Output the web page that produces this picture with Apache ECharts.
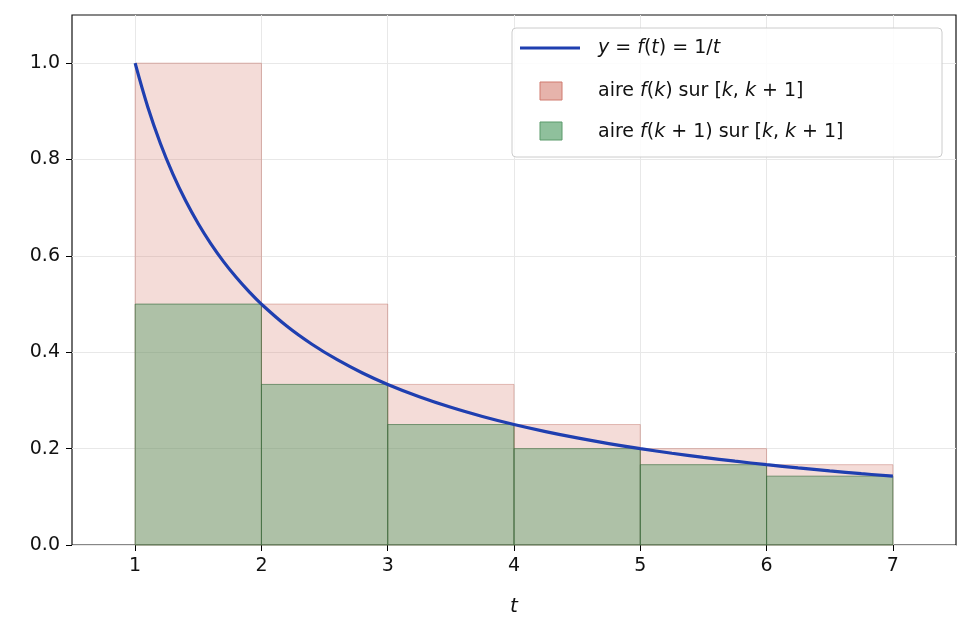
<!DOCTYPE html><html><head><meta charset="utf-8">
<script src="https://cdn.jsdelivr.net/npm/echarts@6/dist/echarts.min.js"></script>
<style>html,body{margin:0;background:#fff}#c{width:971px;height:638px}</style></head><body><div id="c"></div>
<script>
const curveT=[1,1.1,1.2,1.3,1.4,1.5,1.6,1.7,1.8,1.9,2,2.2,2.4,2.6,2.8,3,3.25,3.5,3.75,4,4.25,4.5,4.75,5,5.25,5.5,5.75,6,6.25,6.5,6.75,7];
const curveY=[1,0.9091,0.8333,0.7692,0.7143,0.6667,0.625,0.5882,0.5556,0.5263,0.5,0.4545,0.4167,0.3846,0.3571,0.3333,0.3077,0.2857,0.2667,0.25,0.2353,0.2222,0.2105,0.2,0.1905,0.1818,0.1739,0.1667,0.16,0.1538,0.1481,0.1429];
const kStart=[1,2,3,4,5,6];
const upperH=[1,0.5,0.3333,0.25,0.2,0.1667];
const lowerH=[0.5,0.3333,0.25,0.2,0.1667,0.1429];
const xTicks=[1,2,3,4,5,6,7];
const yTicks=[0,0.2,0.4,0.6,0.8,1.0];
const F='DejaVu Sans';
function rect(fill,stroke){return function(p,api){const a=api.coord([api.value(0),api.value(2)]);const b=api.coord([api.value(1),0]);
return {type:'rect',shape:{x:a[0],y:a[1],width:b[0]-a[0],height:b[1]-a[1]},style:{fill:fill,stroke:stroke,lineWidth:1}};};}
const ch=echarts.init(document.getElementById('c'));
ch.setOption({animation:false,
grid:{left:72,right:15,top:15,bottom:93,show:true,borderColor:'#111',borderWidth:1.2},
xAxis:{type:'value',min:0.5,max:7.5,interval:0.5,axisLine:{show:false},
 axisTick:{show:true,length:6,lineStyle:{color:'#000'},customValues:xTicks},
 axisLabel:{customValues:xTicks,fontSize:19,color:'#111',fontFamily:F,margin:12},
 splitLine:{show:true,lineStyle:{color:'#e8e8e8'},customValues:xTicks},
 name:'t',nameLocation:'middle',nameGap:52,nameTextStyle:{fontSize:20,fontStyle:'italic',fontFamily:F,color:'#111'}},
yAxis:{type:'value',min:0,max:1.1,interval:0.1,axisLine:{show:false},
 axisTick:{show:true,length:6,lineStyle:{color:'#000'},customValues:yTicks},
 axisLabel:{customValues:yTicks,fontSize:19,color:'#111',fontFamily:F,margin:12,formatter:v=>v.toFixed(1)},
 splitLine:{show:true,lineStyle:{color:'#e8e8e8'},customValues:yTicks}},
series:[
 {type:'custom',renderItem:rect('rgba(214,130,115,0.28)','rgba(190,110,100,0.45)'),data:kStart.map((k,i)=>[k,k+1,upperH[i]]),z:1},
 {type:'custom',renderItem:rect('rgba(60,150,90,0.38)','rgba(60,110,65,0.65)'),data:kStart.map((k,i)=>[k,k+1,lowerH[i]]),z:2},
 {type:'line',data:curveT.map((t,i)=>[t,curveY[i]]),smooth:0.4,showSymbol:false,lineStyle:{color:'#1f3fb0',width:3.2},z:5}
],
graphic:[
 {type:'rect',shape:{x:512,y:28,width:430,height:129,r:4},style:{fill:'rgba(255,255,255,0.85)',stroke:'#ccc',lineWidth:1},z:10},
 {type:'line',shape:{x1:520,y1:48,x2:580,y2:48},style:{stroke:'#1f3fb0',lineWidth:3.2},z:11},
 {type:'rect',shape:{x:540,y:82,width:22,height:18},style:{fill:'#e6b3ab',stroke:'#d07a6e',lineWidth:1},z:11},
 {type:'rect',shape:{x:540,y:122,width:22,height:18},style:{fill:'#8fc09c',stroke:'#5a9a6a',lineWidth:1},z:11},
 {type:'text',x:598,y:48,z:11,style:{text:'{i|y} = {i|f}({i|t}) = 1/{i|t}',verticalAlign:'middle',fontSize:19,fontFamily:F,fill:'#111',rich:{i:{fontStyle:'italic',fontSize:19,fontFamily:F}}}},
 {type:'text',x:598,y:91,z:11,style:{text:'aire {i|f}({i|k}) sur [{i|k}, {i|k} + 1]',verticalAlign:'middle',fontSize:19,fontFamily:F,fill:'#111',rich:{i:{fontStyle:'italic',fontSize:19,fontFamily:F}}}},
 {type:'text',x:598,y:132,z:11,style:{text:'aire {i|f}({i|k} + 1) sur [{i|k}, {i|k} + 1]',verticalAlign:'middle',fontSize:19,fontFamily:F,fill:'#111',rich:{i:{fontStyle:'italic',fontSize:19,fontFamily:F}}}}
]});
</script></body></html>
